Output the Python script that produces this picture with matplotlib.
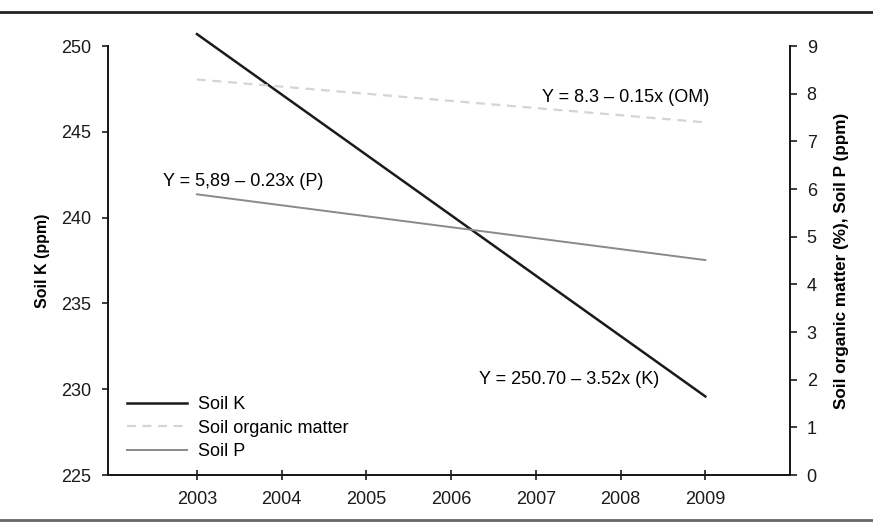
import matplotlib
matplotlib.use("Agg")
import matplotlib.pyplot as plt
from matplotlib.lines import Line2D

plt.rcParams['font.family'] = ['Liberation Sans Narrow', 'Liberation Sans', 'DejaVu Sans']

# regression lines, read at the end years
years = [2003, 2009]
soil_k = [250.70, 229.58]
soil_om = [8.30, 7.40]
soil_p = [5.89, 4.51]

xticks = [2003, 2004, 2005, 2006, 2007, 2008, 2009]
k_ticks = [225, 230, 235, 240, 245, 250]
right_ticks = [0, 1, 2, 3, 4, 5, 6, 7, 8, 9]

fig = plt.figure(figsize=(8.73, 5.24), dpi=100)
ax = fig.add_axes([0.1237, 0.0935, 0.7813, 0.8185])
ax2 = ax.twinx()

lk, = ax.plot(years, soil_k, color='#1a1a1a', lw=1.8, label='Soil K', clip_on=False)
lom, = ax2.plot(years, soil_om, color='#d4d4d4', lw=1.6, ls=(0, (4, 3)),
                label='Soil organic matter')
lp, = ax2.plot(years, soil_p, color='#8a8a8a', lw=1.4, label='Soil P')

ax.set_xlim(2001.95, 2010)
ax.set_ylim(225, 250)
ax2.set_ylim(0, 9)
ax.set_xticks(xticks)
ax.set_yticks(k_ticks)
ax2.set_yticks(right_ticks)

for a in (ax, ax2):
    a.spines['top'].set_visible(False)
    for s in ('left', 'right', 'bottom'):
        a.spines[s].set_linewidth(1.4)
        a.spines[s].set_color('#1a1a1a')

ax.tick_params(axis='y', length=4, width=1.2, pad=8, labelsize=13, colors='#1a1a1a')
ax.tick_params(axis='x', direction='inout', length=7, width=1.2, pad=8,
               labelsize=13, colors='#1a1a1a')
ax2.tick_params(axis='y', length=5, width=1.2, pad=7, labelsize=13, colors='#1a1a1a')

ax.set_ylabel('Soil K (ppm)', fontsize=11.5, fontweight='bold', labelpad=8)
ax2.set_ylabel('Soil organic matter (%), Soil P (ppm)', fontsize=12.3,
               fontweight='bold', labelpad=12)

ax2.text(2007.07, 7.93, 'Y = 8.3 \u2013 0.15x (OM)', fontsize=13, va='center')
ax2.text(2002.6, 6.15, 'Y = 5,89 \u2013 0.23x (P)', fontsize=13, va='center')
ax2.text(2008.46, 2.01, 'Y = 250.70 \u2013 3.52x (K)', fontsize=13,
         va='center', ha='right')

ax2.legend(handles=[lk, lom, lp], loc='lower left', bbox_to_anchor=(0.028, 0.035),
           frameon=False, fontsize=13, handlelength=3.3, handletextpad=0.6,
           labelspacing=0.35, borderpad=0, borderaxespad=0)

# rules above and below the figure
fig.add_artist(Line2D([0, 1], [0.977, 0.977], color='#222222', lw=2,
                      transform=fig.transFigure))
fig.add_artist(Line2D([0, 1], [0.008, 0.008], color='#666666', lw=2,
                      transform=fig.transFigure))

fig.savefig('out.png', dpi=100)
